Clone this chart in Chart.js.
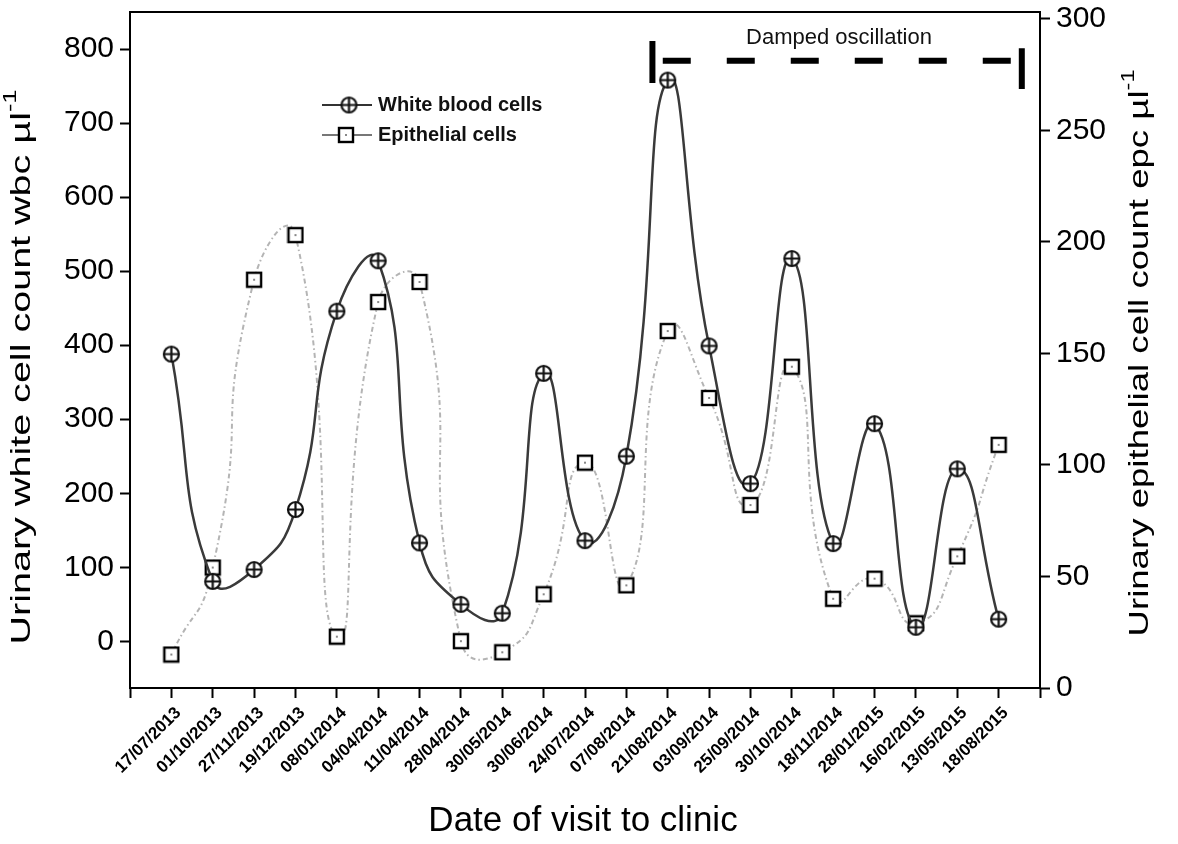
<!DOCTYPE html>
<html>
<head>
<meta charset="utf-8">
<script src="https://cdn.jsdelivr.net/npm/chart.js@4.4.1/dist/chart.umd.min.js"></script>
<style>
  html, body { margin: 0; padding: 0; background: #fff; }
</style>
</head>
<body>
<canvas id="urineChart" width="1178" height="844"></canvas>
<script>
// visit dates (x categories)
const visitDates = ["17/07/2013", "01/10/2013", "27/11/2013", "19/12/2013", "08/01/2014",
    "04/04/2014", "11/04/2014", "28/04/2014", "30/05/2014", "30/06/2014", "24/07/2014",
    "07/08/2014", "21/08/2014", "03/09/2014", "25/09/2014", "30/10/2014", "18/11/2014",
    "28/01/2015", "16/02/2015", "13/05/2015", "18/08/2015"];

// wbc per µl (left axis)
const whiteBloodCells = [388, 81, 97, 178, 446, 514, 133, 50, 38, 362, 136,
    250, 758, 399, 213, 517, 132, 294, 19, 233, 30];

// epc per µl (right axis)
const epithelialCells = [15, 54, 183, 203, 23, 173, 182, 21, 16, 42, 101,
    46, 160, 130, 82, 144, 40, 49, 29, 59, 109];

const FONT = '"Liberation Sans", Arial, sans-serif';
Chart.defaults.font.family = FONT;
Chart.defaults.color = "#000";

function circleCross(r) {
    let c = document.createElement("canvas");
    let s = Math.ceil(r * 2 + 4);
    c.width = s;
    c.height = s;
    let g = c.getContext("2d");
    let m = s / 2;
    g.fillStyle = "#fff";
    g.strokeStyle = "#111";
    g.lineWidth = 2.2;
    g.beginPath();
    g.arc(m, m, r, 0, Math.PI * 2);
    g.fill();
    g.stroke();
    g.beginPath();
    g.moveTo(m - r, m); g.lineTo(m + r, m);
    g.moveTo(m, m - r); g.lineTo(m, m + r);
    g.stroke();
    return c;
}

function openSquare(side) {
    let c = document.createElement("canvas");
    let s = side + 4;
    c.width = s;
    c.height = s;
    let g = c.getContext("2d");
    g.fillStyle = "#fff";
    g.strokeStyle = "#000";
    g.lineWidth = 2.4;
    g.fillRect(2, 2, side, side);
    g.strokeRect(2, 2, side, side);
    g.fillStyle = "#888";
    g.fillRect(s / 2 - 1, s / 2 - 1, 2, 2);
    return c;
}

const wbcMarker = circleCross(7.5);
const epcMarker = openSquare(14);

function rotatedTitle(ctx, main, sup, cx, cy, len) {
    ctx.save();
    ctx.translate(cx, cy);
    ctx.rotate(-Math.PI / 2);
    ctx.font = "28px " + FONT;
    let w1 = ctx.measureText(main).width;
    ctx.font = "18px " + FONT;
    let w2 = ctx.measureText(sup).width;
    ctx.scale(len / (w1 + w2), 1);
    ctx.fillStyle = "#000";
    ctx.textBaseline = "middle";
    ctx.textAlign = "left";
    let x0 = -(w1 + w2) / 2;
    ctx.font = "28px " + FONT;
    ctx.fillText(main, x0, 0);
    ctx.font = "18px " + FONT;
    ctx.fillText(sup, x0 + w1, -11);
    ctx.restore();
}

function noPad(s) {
    s.paddingTop = 0;
    s.paddingBottom = 0;
    s.paddingLeft = 0;
    s.paddingRight = 0;
}

const decor = {
    id: "decor",
    afterDraw(chart) {
        let ctx = chart.ctx;
        let a = chart.chartArea;
        let xs = chart.scales.x;
        let ys = chart.scales.y;

        // top frame line
        ctx.save();
        ctx.strokeStyle = "#000";
        ctx.lineWidth = 2;
        ctx.beginPath();
        ctx.moveTo(a.left, a.top);
        ctx.lineTo(a.right, a.top);
        ctx.stroke();

        // legend
        let lx = a.left + 192;
        let rows = [
            { text: "White blood cells", y: 105, color: "#333", img: wbcMarker, mx: lx + 27 },
            { text: "Epithelial cells", y: 135, color: "#777", img: epcMarker, mx: lx + 24 },
        ];
        rows.forEach(r => {
            ctx.strokeStyle = r.color;
            ctx.lineWidth = 2;
            ctx.beginPath();
            ctx.moveTo(lx, r.y);
            ctx.lineTo(lx + 50, r.y);
            ctx.stroke();
            ctx.drawImage(r.img, r.mx - r.img.width / 2, r.y - r.img.height / 2);
            ctx.fillStyle = "#111";
            ctx.font = "bold 20px " + FONT;
            ctx.textBaseline = "middle";
            ctx.textAlign = "left";
            ctx.fillText(r.text, lx + 56, r.y);
        });

        // damped oscillation marker
        ctx.setLineDash([28, 36]);
        ctx.lineWidth = 6;
        ctx.strokeStyle = "#000";
        ctx.beginPath();
        ctx.moveTo(xs.getPixelForValue(11.88), ys.getPixelForValue(784));
        ctx.lineTo(xs.getPixelForValue(20.32), ys.getPixelForValue(784));
        ctx.stroke();
        ctx.setLineDash([]);
        ctx.beginPath();
        ctx.moveTo(xs.getPixelForValue(11.63), ys.getPixelForValue(811));
        ctx.lineTo(xs.getPixelForValue(11.63), ys.getPixelForValue(754));
        ctx.moveTo(xs.getPixelForValue(20.56), ys.getPixelForValue(801));
        ctx.lineTo(xs.getPixelForValue(20.56), ys.getPixelForValue(746));
        ctx.stroke();
        ctx.fillStyle = "#111";
        ctx.font = "22px " + FONT;
        ctx.textAlign = "center";
        ctx.textBaseline = "middle";
        ctx.fillText("Damped oscillation", xs.getPixelForValue(16.14), ys.getPixelForValue(815));

        // axis titles
        ctx.fillStyle = "#000";
        ctx.font = "35px " + FONT;
        ctx.fillText("Date of visit to clinic", (a.left + a.right) / 2 - 2, a.bottom + 133);
        ctx.restore();

        rotatedTitle(ctx, "Urinary white cell count wbc µl", "-1", a.left - 108, (a.top + a.bottom) / 2 + 17, 555);
        rotatedTitle(ctx, "Urinary epithelial cell count epc µl", "-1", a.right + 100, (a.top + a.bottom) / 2 + 3, 567);
    }
};

let ctx = document.getElementById("urineChart").getContext("2d");
let urineChart = new Chart(ctx, {
    type: "line",
    data: {
        datasets: [
            {
                label: "White blood cells",
                data: whiteBloodCells.map((v, i) => ({ x: i, y: v })),
                yAxisID: "y",
                borderColor: "#3a3a3a",
                borderWidth: 2.5,
                tension: 0.5,
                pointStyle: wbcMarker,
                pointRadius: 8,
                order: 0,
            },
            {
                label: "Epithelial cells",
                data: epithelialCells.map((v, i) => ({ x: i, y: v })),
                yAxisID: "y2",
                borderColor: "#b4b4b4",
                borderWidth: 2,
                borderDash: [5, 3, 1.5, 3],
                tension: 0.6,
                pointStyle: epcMarker,
                pointRadius: 8,
                order: 1,
            },
        ],
    },
    options: {
        responsive: false,
        animation: false,
        events: [],
        layout: { padding: { top: 12 } },
        plugins: {
            legend: { display: false },
            tooltip: { enabled: false },
        },
        scales: {
            x: {
                type: "linear",
                min: -1,
                max: 21,
                afterFit: s => { s.height = 156; noPad(s); },
                ticks: {
                    stepSize: 1,
                    autoSkip: false,
                    minRotation: 45,
                    maxRotation: 45,
                    padding: 5,
                    labelOffset: 7,
                    font: { size: 17, weight: "bold" },
                    callback: v => visitDates[v] ?? "",
                },
                grid: { drawOnChartArea: false, tickLength: 10, tickColor: "#000", tickWidth: 2 },
                border: { color: "#000", width: 2 },
            },
            y: {
                position: "left",
                min: -63,
                max: 850,
                afterFit: s => { s.width = 130; noPad(s); },
                ticks: { stepSize: 100, includeBounds: false, font: { size: 30 }, padding: 6 },
                grid: { drawOnChartArea: false, tickLength: 10, tickColor: "#000", tickWidth: 2 },
                border: { color: "#000", width: 2 },
            },
            y2: {
                position: "right",
                min: 0,
                max: 303,
                afterFit: s => { s.width = 138; noPad(s); },
                ticks: { stepSize: 50, includeBounds: false, font: { size: 30 }, padding: 6 },
                grid: { drawOnChartArea: false, tickLength: 10, tickColor: "#000", tickWidth: 2 },
                border: { color: "#000", width: 2 },
            },
        },
    },
    plugins: [decor],
});
</script>
</body>
</html>
